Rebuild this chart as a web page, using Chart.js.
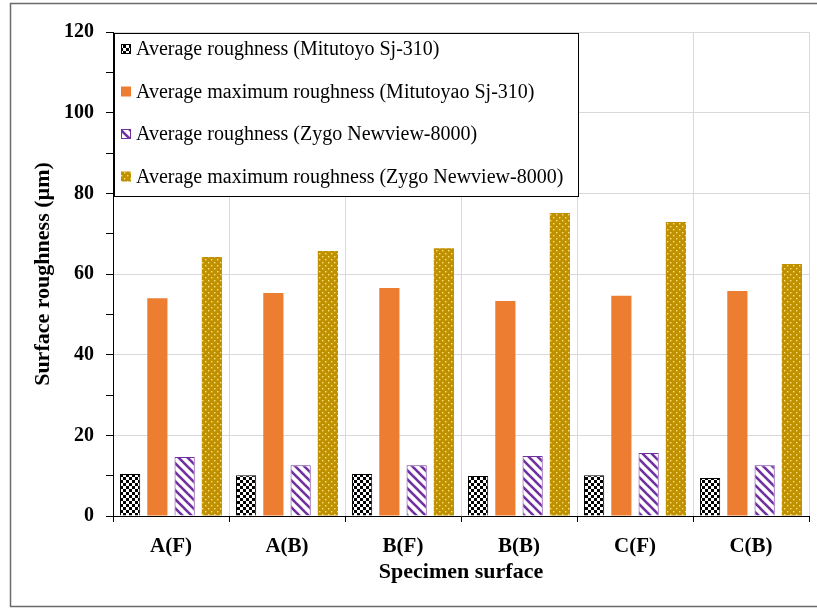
<!DOCTYPE html>
<html>
<head>
<meta charset="utf-8">
<script src="https://cdn.jsdelivr.net/npm/chart.js@4.4.1/dist/chart.umd.min.js"></script>
<style>
    body { margin: 0; background: #fff; }
    #caja { width: 817px; height: 609px; }
</style>
</head>
<body>
<div id="caja"><canvas id="grafica" width="817" height="609"></canvas></div>
<script>
// datos
const superficies = ['A(F)', 'A(B)', 'B(F)', 'B(B)', 'C(F)', 'C(B)'];
const raMitutoyo = [10.4, 10.1, 10.4, 9.9, 10.1, 9.4];
const rzMitutoyo = [54.0, 55.3, 56.5, 53.3, 54.6, 55.8];
const raZygo = [14.6, 12.6, 12.6, 14.9, 15.6, 12.6];
const rzZygo = [64.2, 65.7, 66.4, 75.1, 72.9, 62.5];
const nombres = [
    'Average roughness (Mitutoyo Sj-310)',
    'Average maximum roughness (Mitutoyao Sj-310)',
    'Average roughness (Zygo Newview-8000)',
    'Average maximum roughness (Zygo Newview-8000)'
];
const yMin = 0, yMax = 120, yPaso = 10, yEtiquetaCada = 20;

const SERIF = "'Liberation Serif', 'Times New Roman', serif";

function patron(tam, dibujar) {
    const c = document.createElement('canvas');
    c.width = tam; c.height = tam;
    dibujar(c.getContext('2d'), tam);
    return c.getContext('2d').createPattern(c, 'repeat');
}

const ajedrez = patron(6, (g) => {
    g.fillStyle = '#fff'; g.fillRect(0, 0, 6, 6);
    g.fillStyle = '#000';
    g.fillRect(0, 0, 3, 3);
    g.fillRect(3, 3, 3, 3);
});

const rayas = patron(9, (g, t) => {
    g.fillStyle = '#fff'; g.fillRect(0, 0, t, t);
    g.strokeStyle = '#7030A0';
    g.lineWidth = 2.6;
    for (let k = -1; k <= 1; k++) {
        g.beginPath();
        g.moveTo(k * t - 2, -2);
        g.lineTo(k * t + t + 2, t + 2);
        g.stroke();
    }
});

const puntos = patron(6, (g) => {
    g.fillStyle = '#BF9000'; g.fillRect(0, 0, 6, 6);
    g.fillStyle = '#FFE27A';
    g.fillRect(1, 1, 1.4, 1.4);
    g.fillRect(4, 4, 1.4, 1.4);
});

const marco = {
    id: 'marco',
    beforeDraw(chart) {
        const c = chart.ctx;
        c.save();
        c.fillStyle = '#fff';
        c.fillRect(0, 0, chart.width, chart.height);
        c.strokeStyle = '#6b6b6b';
        c.lineWidth = 1.5;
        c.strokeRect(10.5, 3.5, 830, 603);
        c.restore();
    }
};

// leyenda dentro del area con recuadro
const leyenda = {
    id: 'leyenda',
    afterDraw(chart) {
        const c = chart.ctx;
        const x0 = chart.chartArea.left + 1, y0 = chart.chartArea.top + 1;
        c.save();
        c.fillStyle = '#fff';
        c.fillRect(x0, y0, 464, 163);
        c.strokeStyle = '#000';
        c.lineWidth = 1;
        c.strokeRect(x0 + 0.5, y0 + 0.5, 464, 163);
        c.font = '20px ' + SERIF;
        c.textBaseline = 'middle';
        chart.data.datasets.forEach((ds, i) => {
            const y = y0 + 16 + i * 42.5;
            c.fillStyle = ds.backgroundColor;
            c.fillRect(x0 + 7, y - 5, 10, 10);
            if (ds.borderWidth) {
                c.strokeStyle = ds.borderColor;
                c.strokeRect(x0 + 7.5, y - 4.5, 9, 9);
            }
            c.fillStyle = '#000';
            c.fillText(ds.label, x0 + 22, y + 1);
        });
        c.restore();
    }
};

new Chart(document.getElementById('grafica'), {
    type: 'bar',
    data: {
        labels: superficies,
        datasets: [
            { label: nombres[0], data: raMitutoyo, backgroundColor: ajedrez, borderColor: '#000', borderWidth: 1 },
            { label: nombres[1], data: rzMitutoyo, backgroundColor: '#ED7D31', borderWidth: 0 },
            { label: nombres[2], data: raZygo, backgroundColor: rayas, borderColor: '#7030A0', borderWidth: 1 },
            { label: nombres[3], data: rzZygo, backgroundColor: puntos, borderWidth: 0 }
        ]
    },
    options: {
        responsive: false,
        animation: false,
        categoryPercentage: 0.94,
        barPercentage: 0.74,
        layout: { padding: { left: 0, right: 8, top: 32, bottom: 0 } },
        plugins: {
            legend: { display: false },
            tooltip: { enabled: false }
        },
        scales: {
            x: {
                offset: true,
                afterFit(s) { s.height = 93; },
                grid: { offset: true, color: '#d9d9d9', tickColor: '#000', tickLength: 6 },
                border: { color: '#000', width: 1 },
                ticks: { color: '#000', padding: 12, font: { family: SERIF, size: 21, weight: 'bold' } },
                title: {
                    display: true, text: 'Specimen surface', color: '#000',
                    padding: { top: 0, bottom: 23 },
                    font: { family: SERIF, size: 22, weight: 'bold' }
                }
            },
            y: {
                min: yMin, max: yMax,
                afterFit(s) { s.width = 113; },
                grid: {
                    color: (ctx) => (ctx.tick && ctx.tick.value % yEtiquetaCada) ? 'rgba(0,0,0,0)' : '#d9d9d9',
                    tickColor: '#000',
                    tickLength: 7
                },
                border: { color: '#000', width: 1 },
                ticks: {
                    stepSize: yPaso,
                    color: '#000',
                    padding: 12,
                    font: { family: SERIF, size: 20, weight: 'bold' },
                    callback: (v) => v % yEtiquetaCada === 0 ? v : ''
                },
                title: {
                    display: true, text: 'Surface roughness (µm)', color: '#000',
                    padding: { top: 30, bottom: 0 },
                    font: { family: SERIF, size: 22, weight: 'bold' }
                }
            }
        }
    },
    plugins: [marco, leyenda]
});
</script>
</body>
</html>
